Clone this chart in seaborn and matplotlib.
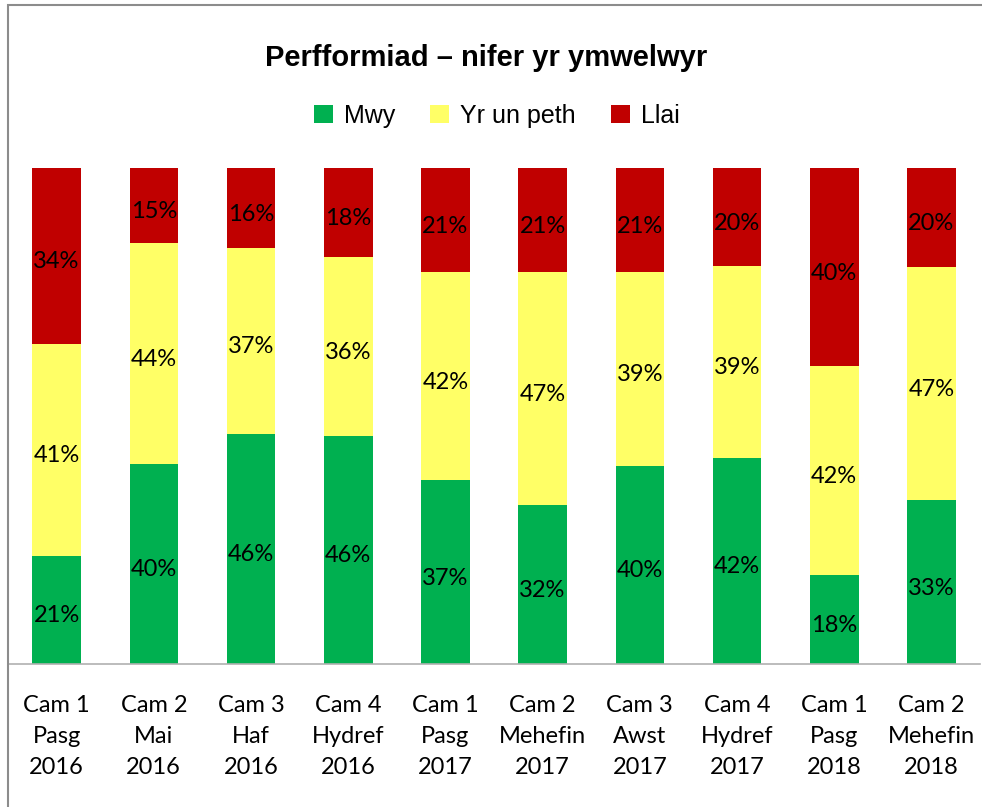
import numpy as np
import pandas as pd
import matplotlib.pyplot as plt
import seaborn as sns
from matplotlib.patches import Rectangle, Patch
from matplotlib.transforms import offset_copy

# Data (percent labels as shown; bars are 100% stacked)
categories = ['Cam 1\nPasg\n2016', 'Cam 2\nMai\n2016', 'Cam 3\nHaf\n2016', 'Cam 4\nHydref\n2016',
              'Cam 1\nPasg\n2017', 'Cam 2\nMehefin\n2017', 'Cam 3\nAwst\n2017', 'Cam 4\nHydref\n2017',
              'Cam 1\nPasg\n2018', 'Cam 2\nMehefin\n2018']
mwy = [21, 40, 46, 46, 37, 32, 40, 42, 18, 33]
yr_un_peth = [41, 44, 37, 36, 42, 47, 39, 39, 42, 47]
llai = [34, 15, 16, 18, 21, 21, 21, 20, 40, 20]

series_names = ['Mwy', 'Yr un peth', 'Llai']
colors = ['#00B050', '#FFFF66', '#C00000']

df = pd.DataFrame({'cat': categories, 'Mwy': mwy, 'Yr un peth': yr_un_peth, 'Llai': llai})
total = df[series_names].sum(axis=1)
share = df[series_names].div(total, axis=0)
cum = share.cumsum(axis=1)

sns.set_style("white")
plt.rcParams['font.family'] = ['Lato', 'DejaVu Sans']
plt.rcParams['text.color'] = 'black'
plt.rcParams['xtick.color'] = 'black'

fig = plt.figure(figsize=(9.82, 8.07), dpi=100)
W, H = 982, 807
ax = fig.add_axes([8 / W, (H - 664) / H, (980 - 8) / W, (664 - 168) / H])

# Draw stacked bars from the top layer down so lower layers overlay
for name, col in zip(reversed(series_names), reversed(colors)):
    plot_df = pd.DataFrame({'cat': categories, 'val': cum[name].values})
    sns.barplot(data=plot_df, x='cat', y='val', color=col, width=0.5,
                saturation=1, linewidth=0, ax=ax, order=categories)

# Value labels centred in each segment (nudged slightly down, like Excel)
label_tr = offset_copy(ax.transData, fig=fig, x=0, y=-4, units='dots')
bottoms = np.zeros(len(categories))
for name in series_names:
    for i in range(len(categories)):
        h = share[name].iloc[i]
        ax.text(i, bottoms[i] + h / 2, f"{df[name].iloc[i]}%", ha='center', va='center_baseline',
                fontsize=17, color='black', transform=label_tr)
    bottoms += share[name].values

ax.set_xlim(-0.5, len(categories) - 0.5)
ax.set_ylim(0, 1)
ax.set_yticks([])
ax.set_xlabel('')
ax.set_ylabel('')
for s in ['top', 'right', 'left']:
    ax.spines[s].set_visible(False)
ax.spines['bottom'].set_color('#b0b0b0')
ax.spines['bottom'].set_linewidth(1.2)
ax.tick_params(axis='x', length=0, pad=22, labelsize=17, labelcolor='black')
for lbl in ax.get_xticklabels():
    lbl.set_linespacing(1.6)

# Title and legend
fig.text(486 / W, 1 - 58 / H, 'Perfformiad – nifer yr ymwelwyr', ha='center', va='center',
         fontsize=21, fontweight='bold', color='black', family=['Liberation Sans', 'DejaVu Sans'])
handles = [Patch(facecolor=c, edgecolor='none') for c in colors]
fig.legend(handles, series_names, loc='center', bbox_to_anchor=(497 / W, 1 - 116 / H),
           ncol=3, frameon=False, handlelength=0.75, handleheight=0.75, handletextpad=0.45,
           columnspacing=1.4, labelcolor='black',
           prop={'family': ['Liberation Sans', 'DejaVu Sans'], 'size': 18})

# Chart border (cropped at right and bottom)
fig.add_artist(Rectangle((8 / W, -0.05), 1.1, 1 - 5 / H + 0.05, transform=fig.transFigure,
                         fill=False, edgecolor='#8c8c8c', linewidth=1.5))

fig.savefig('out.png', dpi=100)
